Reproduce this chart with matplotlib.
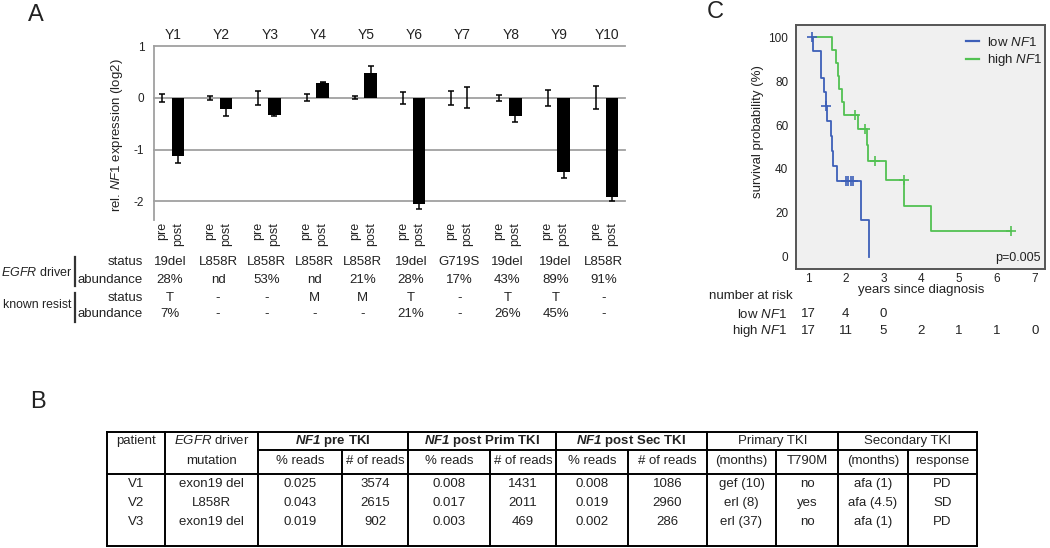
import numpy as np
import matplotlib
matplotlib.use('Agg')
import matplotlib.pyplot as plt
from matplotlib.lines import Line2D
from matplotlib.transforms import blended_transform_factory

plt.rcParams['font.family'] = ['Liberation Sans', 'DejaVu Sans']
plt.rcParams['mathtext.fontset'] = 'custom'
plt.rcParams['mathtext.rm'] = 'Liberation Sans'
plt.rcParams['mathtext.it'] = 'Liberation Sans:italic'
plt.rcParams['mathtext.bf'] = 'Liberation Sans:bold'
plt.rcParams['mathtext.bfit'] = 'Liberation Sans:italic:bold'

#---------------------------- DATA -------------------------------------------
# Panel A: relative NF1 expression, pre = reference (0), post = bars
patients = ['Y1', 'Y2', 'Y3', 'Y4', 'Y5', 'Y6', 'Y7', 'Y8', 'Y9', 'Y10']
pre_vals = [0, 0, 0, 0, 0, 0, 0, 0, 0, 0]
pre_err = [0.08, 0.04, 0.14, 0.07, 0.03, 0.12, 0.14, 0.06, 0.15, 0.22]
post_vals = [-1.13, -0.22, -0.33, 0.29, 0.48, -2.05, 0.0, -0.35, -1.43, -1.92]
post_err = [0.13, 0.13, 0.02, 0.01, 0.13, 0.09, 0.2, 0.11, 0.12, 0.08]

driver_status = ['19del', 'L858R', 'L858R', 'L858R', 'L858R', '19del', 'G719S', '19del', '19del', 'L858R']
driver_abund = ['28%', 'nd', '53%', 'nd', '21%', '28%', '17%', '43%', '89%', '91%']
resist_status = ['T', '-', '-', 'M', 'M', 'T', '-', 'T', 'T', '-']
resist_abund = ['7%', '-', '-', '-', '-', '21%', '-', '26%', '45%', '-']

# Panel C: Kaplan-Meier curves (years, % surviving)
low_t = [1.1, 1.13, 1.34, 1.42, 1.47, 1.51, 1.60, 1.63, 1.66, 1.77, 2.41, 2.61]
low_s = [100, 93.8, 81.2, 74.8, 68.8, 61.7, 55.0, 48.0, 41.2, 34.4, 17.0, 0.0]
low_cens_t = [1.11, 1.47, 2.0, 2.07, 2.13, 2.2]
low_cens_s = [100, 68.8, 34.4, 34.4, 34.4, 34.4]

high_t = [1.1, 1.63, 1.73, 1.79, 1.82, 1.89, 1.95, 2.32, 2.57, 2.60, 3.07, 3.54, 4.25, 6.37]
high_s = [100, 94.1, 88.2, 82.4, 76.5, 70.6, 64.7, 58.2, 51.0, 43.6, 34.9, 23.3, 11.6, 11.6]
high_cens_t = [2.24, 2.52, 2.77, 3.54, 6.37]
high_cens_s = [64.7, 58.2, 43.6, 34.9, 11.6]

risk_years = [1, 2, 3, 4, 5, 6, 7]
risk_low = ['17', '4', '0']
risk_high = ['17', '11', '5', '2', '1', '1', '0']

# Panel B: table
tb_header1 = ['patient', r'$\mathit{EGFR}$ driver', r'$\mathbfit{NF1}$ pre TKI',
              r'$\mathbfit{NF1}$ post Prim TKI', r'$\mathbfit{NF1}$ post Sec TKI',
              'Primary TKI', 'Secondary TKI']
tb_header2 = ['', 'mutation', '% reads', '# of reads', '% reads', '# of reads',
              '% reads', '# of reads', '(months)', 'T790M', '(months)', 'response']
tb_rows = [
    ['V1', 'exon19 del', '0.025', '3574', '0.008', '1431', '0.008', '1086', 'gef (10)', 'no', 'afa (1)', 'PD'],
    ['V2', 'L858R', '0.043', '2615', '0.017', '2011', '0.019', '2960', 'erl (8)', 'yes', 'afa (4.5)', 'SD'],
    ['V3', 'exon19 del', '0.019', '902', '0.003', '469', '0.002', '286', 'erl (37)', 'no', 'afa (1)', 'PD'],
]

#---------------------------- LAYOUT -----------------------------------------
W, H = 1050, 548
TXT = '#222222'
GRAY = '#a0a0a0'

def px_box(x0, y0, x1, y1):
    return [x0 / W, 1 - y1 / H, (x1 - x0) / W, (y1 - y0) / H]

fig = plt.figure(figsize=(W / 100, H / 100), dpi=100)
overlay = fig.add_axes([0, 0, 1, 1], zorder=5)
overlay.set_xlim(0, W)
overlay.set_ylim(H, 0)
overlay.axis('off')

# Panel letters
overlay.text(28, 15, 'A', fontsize=17, ha='left', va='center', color=TXT)
overlay.text(30, 402, 'B', fontsize=17, ha='left', va='center', color=TXT)
overlay.text(707, 12, 'C', fontsize=17, ha='left', va='center', color=TXT)

#---------------------------- PANEL A ----------------------------------------
ax_a = fig.add_axes(px_box(154, 46, 625, 220))
x = np.arange(len(patients))
off = 0.166
ax_a.set_xlim(-0.33, 9.44)
ax_a.set_ylim(-2.36, 1.0)
for yv in [1, 0, -1, -2]:
    ax_a.axhline(yv, color=GRAY, lw=1.3, zorder=1, clip_on=False)
for s in ['top', 'right', 'bottom']:
    ax_a.spines[s].set_visible(False)
ax_a.spines['left'].set_color(GRAY)
ax_a.spines['left'].set_linewidth(1.3)
ax_a.set_xticks([])
ax_a.set_yticks([1, 0, -1, -2])
ax_a.set_yticklabels(['1', '0', '-1', '-2'])
ax_a.tick_params(axis='y', length=0, pad=7, labelsize=8.5, labelcolor=TXT)
ax_a.patch.set_alpha(0)

ax_a.bar(x + off, post_vals, width=0.26, color='black', zorder=3)
ax_a.errorbar(x + off, post_vals, yerr=post_err, fmt='none', ecolor='black',
              elinewidth=1.1, capsize=2.5, capthick=1.1, zorder=4)
ax_a.errorbar(x - off, pre_vals, yerr=pre_err, fmt='none', ecolor='black',
              elinewidth=1.1, capsize=2.5, capthick=1.1, zorder=4)

trans_a = blended_transform_factory(ax_a.transData, overlay.transData)
for i, name in enumerate(patients):
    overlay.text(i + 0.07, 35, name, transform=trans_a, ha='center', va='center',
                 fontsize=10, color=TXT)
    overlay.text(i - off, 222, 'pre', transform=trans_a, rotation=90, ha='center',
                 va='top', fontsize=9, color=TXT)
    overlay.text(i + off, 222, 'post', transform=trans_a, rotation=90, ha='center',
                 va='top', fontsize=9, color=TXT)
    for yy, col in zip([262, 280, 298, 314],
                       [driver_status, driver_abund, resist_status, resist_abund]):
        overlay.text(i, yy, col[i], transform=trans_a, ha='center', va='center',
                     fontsize=9.5, color=TXT)

overlay.text(117, 135, r'rel. $\mathit{NF1}$ expression (log2)', rotation=90,
             ha='center', va='center', fontsize=9.5, color=TXT)

for yy, lab in zip([262, 280, 298, 314], ['status', 'abundance', 'status', 'abundance']):
    overlay.text(143, yy, lab, ha='right', va='center', fontsize=9.5, color=TXT)
overlay.text(72, 272, r'$\mathit{EGFR}$ driver', ha='right', va='center', fontsize=9, color=TXT)
overlay.text(71, 305, 'known resist', ha='right', va='center', fontsize=8.8, color=TXT)
overlay.plot([75, 75], [257, 286], color='#333333', lw=1.6)
overlay.plot([75, 75], [293, 322], color='#333333', lw=1.6)

#---------------------------- PANEL C ----------------------------------------
BLUE = '#3d5fb8'
GREEN = '#52c152'
ax_c = fig.add_axes(px_box(796, 25, 1045, 269))
ax_c.set_facecolor('#f0f0f0')
ax_c.set_xlim(0.683, 7.27)
ax_c.set_ylim(-5.5, 105.5)
for s in ax_c.spines.values():
    s.set_color('#555555')
    s.set_linewidth(1.4)
ax_c.set_xticks(risk_years)
ax_c.set_yticks([0, 20, 40, 60, 80, 100])
ax_c.tick_params(axis='x', length=0, pad=3, labelsize=8.5, labelcolor=TXT)
ax_c.tick_params(axis='y', length=0, pad=5.5, labelsize=8.5, labelcolor=TXT)

ax_c.step(low_t, low_s, where='post', color=BLUE, lw=1.3)
ax_c.step(high_t, high_s, where='post', color=GREEN, lw=1.3)
ax_c.plot(low_cens_t, low_cens_s, ls='none', marker='+', ms=7, mew=1.2, color=BLUE)
ax_c.plot(high_cens_t, high_cens_s, ls='none', marker='+', ms=7, mew=1.2, color=GREEN)

handles = [Line2D([0], [0], color=BLUE, lw=1.6), Line2D([0], [0], color=GREEN, lw=1.6)]
ax_c.legend(handles, [r'low $\mathit{NF1}$', r'high $\mathit{NF1}$'], loc='upper left',
            bbox_to_anchor=(0.683, 0.955), frameon=False, handlelength=1.0,
            handletextpad=0.6, labelspacing=0.25, borderpad=0, borderaxespad=0,
            fontsize=9.5, labelcolor=TXT)

overlay.text(1041, 258, 'p=0.005', ha='right', va='center', fontsize=9, color=TXT)
overlay.text(758, 132, 'survival probability (%)', rotation=90, ha='center',
             va='center', fontsize=9.5, color=TXT)
overlay.text(921, 290, 'years since diagnosis', ha='center', va='center',
             fontsize=9.5, color=TXT)

trans_c = blended_transform_factory(ax_c.transData, overlay.transData)
overlay.text(709, 296, 'number at risk', ha='left', va='center', fontsize=9.5, color=TXT)
overlay.text(787, 314, r'low $\mathit{NF1}$', ha='right', va='center', fontsize=9.5, color=TXT)
overlay.text(787, 331, r'high $\mathit{NF1}$', ha='right', va='center', fontsize=9.5, color=TXT)
for yr, n in zip(risk_years, risk_low):
    overlay.text(yr, 314, n, transform=trans_c, ha='center', va='center', fontsize=9.5, color=TXT)
for yr, n in zip(risk_years, risk_high):
    overlay.text(yr, 331, n, transform=trans_c, ha='center', va='center', fontsize=9.5, color=TXT)

#---------------------------- PANEL B (table) --------------------------------
col_edges = [107, 165, 258, 342, 408, 490, 556, 628, 707, 776, 838, 908, 977]
group_edges = [107, 165, 258, 408, 556, 707, 838, 977]
y_top, y_mid, y_head, y_bot = 432, 450, 474, 546
row_y = [484, 503, 522]
lw_t = 1.4

overlay.plot([107, 977], [y_top, y_top], color='black', lw=lw_t)
overlay.plot([258, 977], [y_mid, y_mid], color='black', lw=lw_t)
overlay.plot([107, 977], [y_head, y_head], color='black', lw=lw_t)
overlay.plot([107, 977], [y_bot, y_bot], color='black', lw=lw_t)
for xe in group_edges:
    overlay.plot([xe, xe], [y_top, y_bot], color='black', lw=lw_t)
for xe in col_edges:
    if xe not in group_edges:
        overlay.plot([xe, xe], [y_mid, y_bot], color='black', lw=lw_t)

centers = [(a + b) / 2 for a, b in zip(col_edges[:-1], col_edges[1:])]
group_centers = [(a + b) / 2 for a, b in zip(group_edges[:-1], group_edges[1:])]
for j, lab in enumerate(tb_header1):
    bold = 'bold' if 2 <= j <= 4 else 'normal'
    overlay.text(group_centers[j], 441, lab, ha='center', va='center',
                 fontsize=9.5, fontweight=bold, color=TXT)
for j, lab in enumerate(tb_header2):
    if lab:
        overlay.text(centers[j], 461, lab, ha='center', va='center', fontsize=9.5, color=TXT)
for yy, row in zip(row_y, tb_rows):
    for j, val in enumerate(row):
        overlay.text(centers[j], yy, val, ha='center', va='center', fontsize=9.5, color=TXT)

fig.savefig('out.png', dpi=100)
